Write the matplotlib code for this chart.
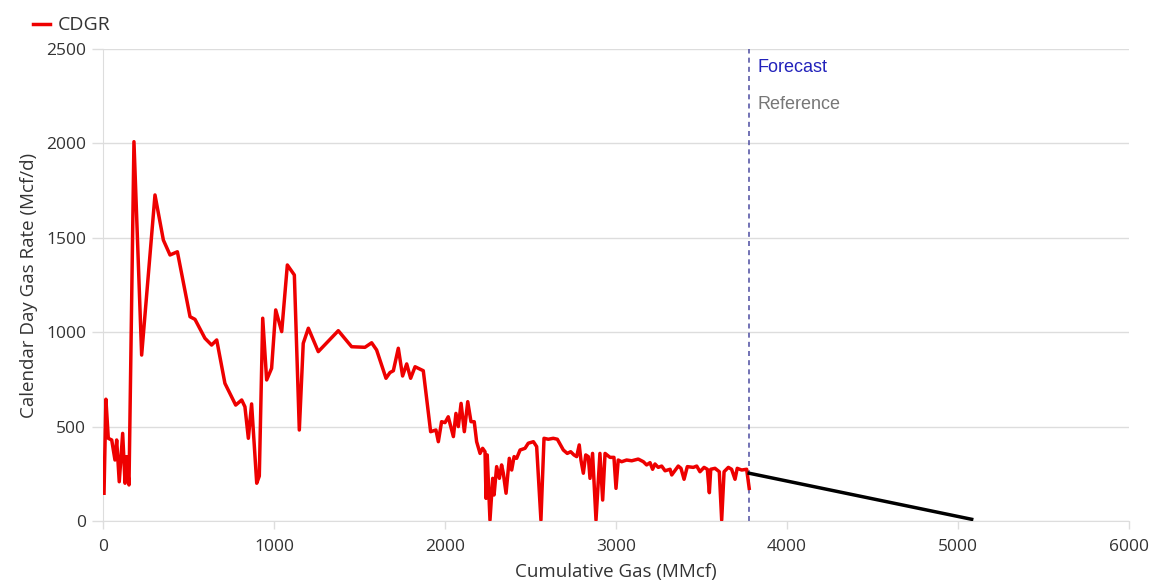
import matplotlib
matplotlib.use("Agg")
import matplotlib.pyplot as plt

# Cumulative gas (MMcf) and calendar day gas rate (Mcf/d)
cum_gas = [6, 17, 31, 51, 70, 80, 95, 115, 129, 138, 152, 181, 226, 304, 353, 392, 435,
           509, 538, 596, 635, 665, 713, 776, 811, 830, 850, 869, 899, 914, 934, 957,
           986, 1010, 1045, 1078, 1119, 1148, 1171, 1201, 1259, 1376, 1454, 1532, 1571,
           1600, 1655, 1678, 1698, 1727, 1752, 1776, 1799, 1825, 1873, 1916, 1947, 1961,
           1980, 2000, 2019, 2049, 2064, 2078, 2094, 2113, 2133, 2152, 2171, 2185, 2205,
           2220, 2234, 2240, 2247, 2263, 2279, 2287, 2302, 2318, 2331, 2341, 2357, 2376,
           2390, 2404, 2419, 2439, 2468, 2487, 2517, 2536, 2561, 2579, 2604, 2633, 2657,
           2692, 2715, 2735, 2754, 2770, 2785, 2795, 2809, 2823, 2838, 2848, 2863, 2883,
           2897, 2906, 2922, 2936, 2965, 2988, 3000, 3013, 3033, 3062, 3092, 3130, 3160,
           3179, 3199, 3214, 3228, 3247, 3267, 3287, 3316, 3326, 3364, 3380, 3398, 3417,
           3452, 3472, 3491, 3515, 3534, 3546, 3554, 3579, 3604, 3618, 3632, 3657, 3676,
           3696, 3709, 3735, 3764, 3779]
cdgr = [147, 645, 438, 429, 323, 429, 208, 464, 200, 341, 191, 2009, 879, 1727, 1488,
        1409, 1426, 1082, 1068, 968, 932, 959, 729, 614, 641, 605, 438, 620, 200, 238,
        1074, 747, 809, 1118, 1003, 1356, 1303, 482, 941, 1021, 897, 1008, 923, 920, 944,
        906, 756, 786, 796, 915, 768, 832, 756, 817, 796, 473, 482, 420, 526, 521, 552,
        447, 570, 500, 623, 473, 632, 526, 526, 420, 358, 385, 367, 120, 350, 5, 226,
        138, 288, 226, 297, 253, 147, 332, 270, 341, 332, 376, 385, 412, 420, 394, 5,
        438, 433, 438, 433, 376, 358, 367, 350, 341, 403, 323, 253, 350, 341, 226, 358,
        5, 217, 358, 111, 358, 337, 337, 173, 323, 314, 323, 319, 328, 314, 297, 309,
        274, 302, 284, 291, 266, 274, 244, 291, 279, 221, 288, 284, 291, 261, 284, 274,
        150, 274, 279, 261, 5, 261, 284, 274, 221, 279, 270, 274, 173]

forecast_x = [3779, 5080]
forecast_y = [253, 9]
forecast_start = 3779

x_ticks = [0, 1000, 2000, 3000, 4000, 5000, 6000]
y_ticks = [0, 500, 1000, 1500, 2000, 2500]

plt.rcParams['font.family'] = ['Open Sans', 'DejaVu Sans']

fig = plt.figure(figsize=(11.72, 5.82), dpi=100)
ax = fig.add_axes([103/1172, 1 - 521/582, (1129 - 103)/1172, (521 - 49)/582])

ax.plot(cum_gas, cdgr, color='#ee0000', lw=2.5, label='CDGR', zorder=3)
ax.plot(forecast_x, forecast_y, color='black', lw=2.5, zorder=3)
ax.axvline(forecast_start, color='#5a5aa8', lw=1.2, ls=(0, (3, 2.5)), zorder=2)

ax.set_xlim(0, 6000)
ax.set_ylim(0, 2500)
ax.set_xticks(x_ticks)
ax.set_yticks(y_ticks)
ax.grid(axis='y', color='#dddddd', lw=1)
ax.set_axisbelow(True)
for s in ['top', 'right']:
    ax.spines[s].set_visible(False)
ax.spines['left'].set_color('#dddddd')
ax.spines['bottom'].set_color('#dddddd')
ax.tick_params(axis='both', colors='#dddddd', labelcolor='#333333', labelsize=12.5, length=6, width=1)
ax.tick_params(axis='x', pad=7)
ax.tick_params(axis='y', length=8, pad=4)

ax.set_xlabel('Cumulative Gas (MMcf)', fontsize=13.5, color='#333333', labelpad=6)
ax.set_ylabel('Calendar Day Gas Rate (Mcf/d)', fontsize=13.5, color='#333333', labelpad=6)

ax.text(forecast_start + 48, 2400, 'Forecast', color='#2222bb', fontsize=13,
        family=['Liberation Sans', 'DejaVu Sans'], va='center')
ax.text(forecast_start + 48, 2205, 'Reference', color='#777777', fontsize=13,
        family=['Liberation Sans', 'DejaVu Sans'], va='center')

fig.legend(loc='upper left', bbox_to_anchor=(15/1172, 1 + 1/582), frameon=False,
           fontsize=14, handlelength=0.9, handletextpad=0.4, labelcolor='#333333')

fig.savefig('out.png', dpi=100)
